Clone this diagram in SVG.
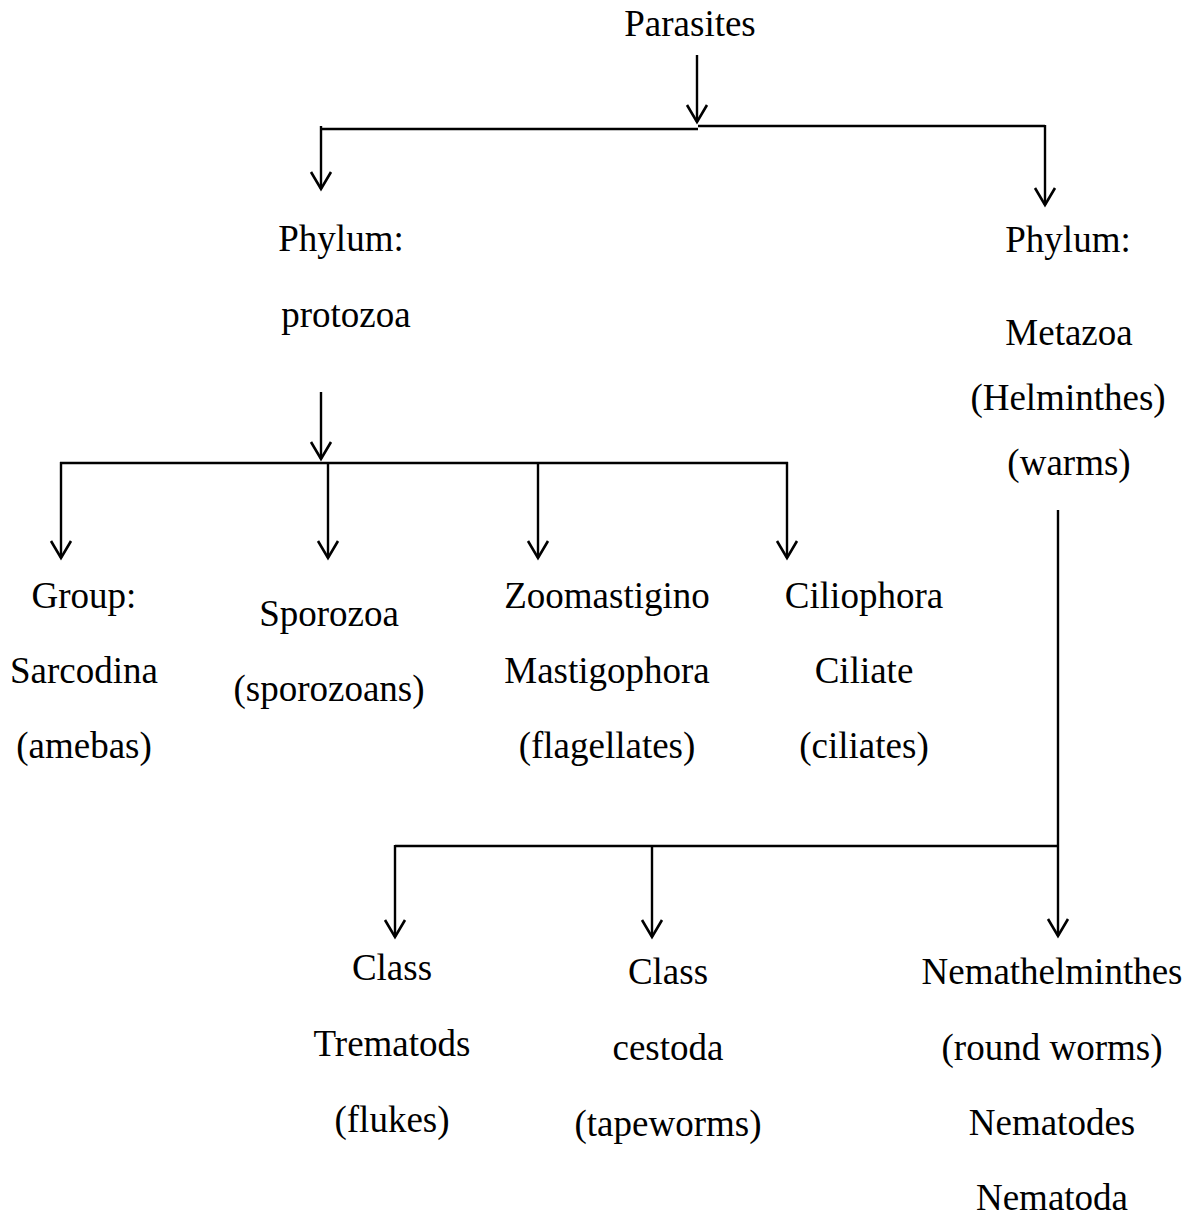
<svg xmlns="http://www.w3.org/2000/svg" width="1194" height="1216" viewBox="0 0 1194 1216">
<style>
text{font-family:"Liberation Serif","Times New Roman",serif;font-size:37px;fill:#000;text-anchor:middle}
.c line,.c path{stroke:#000;stroke-width:2.4;fill:none}
.a{marker-end:url(#ah)}
</style>
<defs>
<marker id="ah" markerUnits="userSpaceOnUse" markerWidth="24" markerHeight="26" refX="0" refY="0" viewBox="-20 -13 24 26" orient="auto" overflow="visible">
<path d="M-17,-10 L0,0 L-17,10" fill="none" stroke="#000" stroke-width="2.6"/>
</marker>
</defs>
<g class="c" id="connectors">
<line class="a" x1="697" y1="55" x2="697" y2="122"/>
<line x1="321" y1="129" x2="698" y2="129"/>
<line x1="698" y1="126" x2="1045" y2="126"/>
<line class="a" x1="321" y1="126" x2="321" y2="189"/>
<line class="a" x1="1045" y1="125" x2="1045" y2="205"/>
<line class="a" x1="321" y1="392" x2="321" y2="459"/>
<line x1="60" y1="463" x2="788" y2="463"/>
<line class="a" x1="61" y1="462" x2="61" y2="558"/>
<line class="a" x1="328" y1="462" x2="328" y2="558"/>
<line class="a" x1="538" y1="462" x2="538" y2="558"/>
<line class="a" x1="787" y1="462" x2="787" y2="558"/>
<line class="a" x1="1058" y1="510" x2="1058" y2="936"/>
<line x1="395" y1="846" x2="1058" y2="846"/>
<line class="a" x1="395" y1="845" x2="395" y2="937"/>
<line class="a" x1="652" y1="845" x2="652" y2="937"/>
</g>
<g id="parasites"><text x="690" y="36">Parasites</text></g>
<g id="protozoa"><text x="341" y="251">Phylum:</text><text x="346" y="327">protozoa</text></g>
<g id="metazoa"><text x="1068" y="252">Phylum:</text><text x="1069" y="345">Metazoa</text><text x="1068" y="410">(Helminthes)</text><text x="1069" y="475">(warms)</text></g>
<g id="sarcodina"><text x="84" y="608">Group:</text><text x="84" y="683">Sarcodina</text><text x="84" y="758">(amebas)</text></g>
<g id="sporozoa"><text x="329" y="626">Sporozoa</text><text x="329" y="701">(sporozoans)</text></g>
<g id="zoomastigino"><text x="607" y="608">Zoomastigino</text><text x="607" y="683">Mastigophora</text><text x="607" y="758">(flagellates)</text></g>
<g id="ciliophora"><text x="864" y="608">Ciliophora</text><text x="864" y="683">Ciliate</text><text x="864" y="758">(ciliates)</text></g>
<g id="trematods"><text x="392" y="980">Class</text><text x="392" y="1056">Trematods</text><text x="392" y="1132">(flukes)</text></g>
<g id="cestoda"><text x="668" y="984">Class</text><text x="668" y="1060">cestoda</text><text x="668" y="1136">(tapeworms)</text></g>
<g id="nemathelminthes"><text x="1052" y="984">Nemathelminthes</text><text x="1052" y="1060">(round worms)</text><text x="1052" y="1135">Nematodes</text><text x="1052" y="1210">Nematoda</text></g>
</svg>
